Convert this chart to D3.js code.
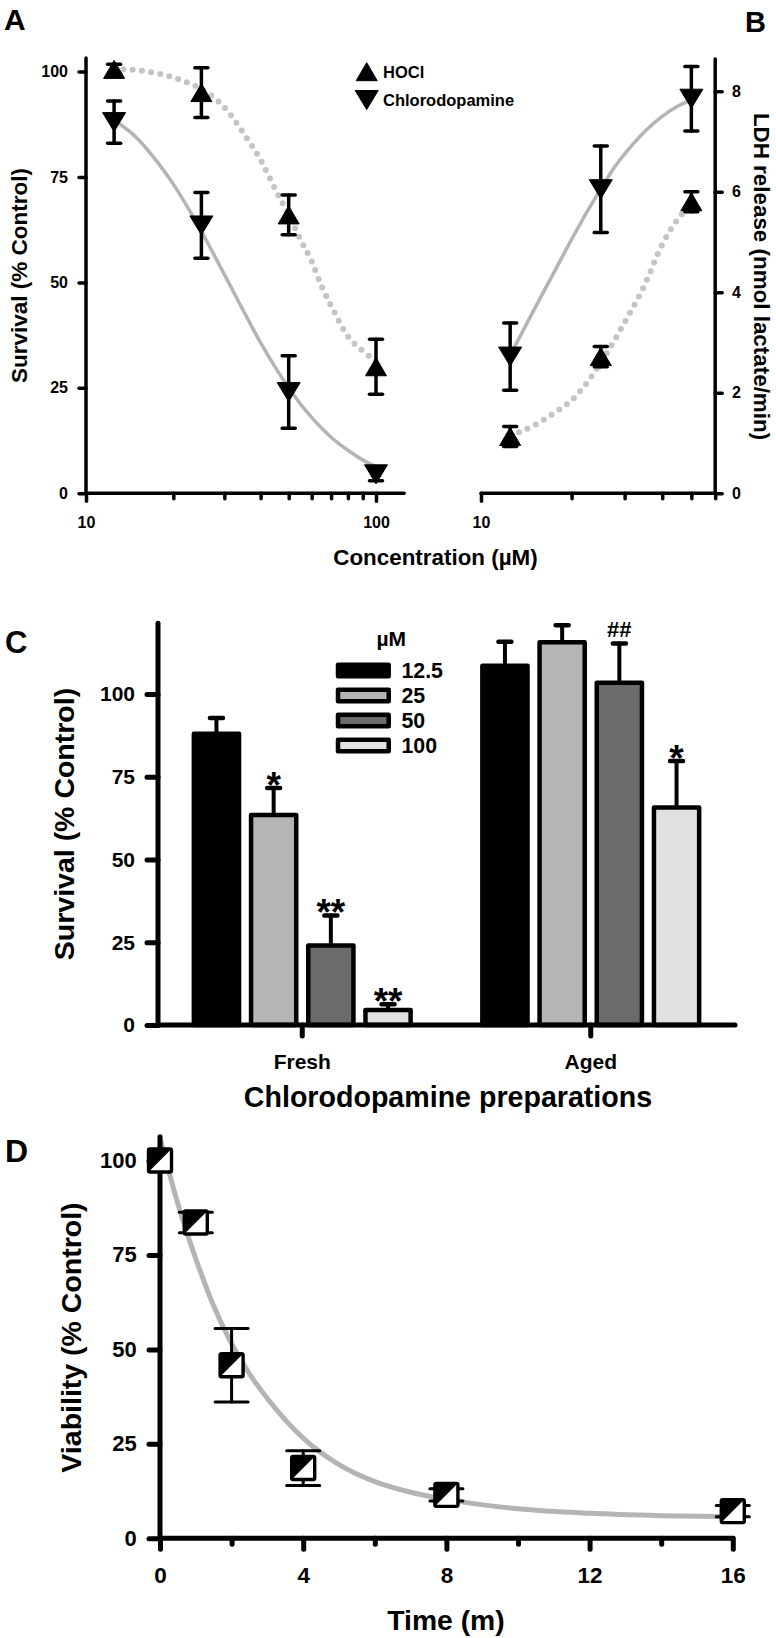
<!DOCTYPE html>
<html><head><meta charset="utf-8">
<script src="https://cdn.jsdelivr.net/npm/d3@7"></script>
<style>
html,body{margin:0;padding:0;background:#fff;}
svg{display:block;}
text{font-family:"Liberation Sans",Arial,Helvetica,sans-serif;font-weight:bold;fill:#000;}
</style></head><body>
<svg id="chart" width="776" height="1638"></svg>
<script>
// ---------------- DATA ----------------
// Panel A : survival vs concentration (log axis)
const concA = [12.5, 25, 50, 100];
const hoclSurvival = [100.5, 95, 66, 30];
const hoclSurvivalSem = [1.2, 5.9, 4.7, 6.5];
const cdSurvival = [88, 63.5, 24, 4.5];
const cdSurvivalSem = [5, 7.8, 8.6, 1.5];
const fitConcA = [12.5, 15, 17.5, 20, 22.5, 25, 30, 35, 40, 45, 50, 55, 60, 65, 70, 80, 90, 100];
const hoclFitA = [100.6, 100.3, 99.6, 98.6, 97.3, 95.8, 91.5, 85.3, 79, 72, 66, 60, 55, 49, 44.5, 37.2, 33.8, 31.2];
const cdFitA = [88.5, 84.2, 78.8, 73.3, 67.6, 62.1, 51.9, 43.1, 35.7, 29.8, 25.0, 21.1, 18.0, 15.4, 13.3, 10.2, 7.9, 6.3];
const survivalTicksA = [0, 25, 50, 75, 100];
const concMajorTicksA = [10, 100];
const concMinorTicksA = [20, 30, 40, 50, 60, 70, 80, 90];
const legendA = ["HOCl", "Chlorodopamine"];

// Panel B : LDH release
const concB = [12.5, 25, 50];
const hoclLDH = [1.13, 2.72, 5.8];
const hoclLDHSem = [0.2, 0.2, 0.2];
const cdLDH = [2.72, 6.05, 7.85];
const cdLDHSem = [0.67, 0.86, 0.64];
const fitConcB = [12.5, 15, 17.5, 20, 22.5, 25, 27.5, 30, 35, 40, 45, 50];
const hoclFitB = [1.15, 1.35, 1.6, 1.85, 2.2, 2.6, 3.0, 3.4, 4.15, 4.95, 5.45, 5.75];
const cdFitB = [2.75, 3.65, 4.4, 5.05, 5.6, 6.05, 6.45, 6.75, 7.2, 7.5, 7.7, 7.82];
const ldhTicks = [0, 2, 4, 6, 8];
const concMajorTicksB = [10];
const concMinorTicksB = [20, 30, 40, 50, 60];

// Panel C : bars
const preparations = ["Fresh", "Aged"];
const dosesC = ["12.5", "25", "50", "100"];
const freshSurvival = [88, 63.5, 24, 4.5];
const freshSem = [4.8, 8.1, 9.1, 1.8];
const agedSurvival = [108.6, 115.7, 103.4, 65.7];
const agedSem = [7.2, 5.1, 11.9, 14.1];
const freshMarks = ["", "*", "**", "**"];
const agedMarks = ["", "", "##", "*"];
const survivalTicksC = [0, 25, 50, 75, 100];

// Panel D : viability vs time
const timeMin = [0, 1, 2, 4, 8, 16];
const viability = [100, 83.6, 45.8, 18.6, 11.5, 7.2];
const viabilitySem = [0, 2.7, 9.7, 4.6, 1.6, 1.5];
const fitTime = [0, 0.5, 1, 1.5, 2, 2.5, 3, 4, 5, 6, 7, 8, 10, 12, 14, 16];
const viabilityFit = [106, 88.5, 74, 61.5, 51.5, 43.5, 37, 26.5, 19.5, 15, 12.2, 10.3, 7.8, 6.6, 6, 5.7];
const viabilityTicks = [0, 25, 50, 75, 100];
const timeMajorTicks = [0, 4, 8, 12, 16];
const timeMinorTicks = [2, 6, 10, 14];

// ---------------- STYLE ----------------
const INK = "#000";
const FIT = "#b4b4b4";
const FONT = '"Liberation Sans", Arial, Helvetica, sans-serif';
const barFills = ["#000000", "#b5b5b5", "#6b6b6b", "#e1e1e1"];

const svg = d3.select("#chart");

function styleAxis(g, sw, fs) {
  g.select(".domain").remove();
  g.selectAll(".tick line").attr("stroke", INK).attr("stroke-width", sw).attr("stroke-linecap", "round");
  g.selectAll(".tick text").attr("font-size", fs).attr("font-family", FONT)
    .attr("font-weight", "bold").attr("fill", INK);
}
function axisLine(x1, y1, x2, y2, sw) {
  svg.append("line").attr("x1", x1).attr("y1", y1).attr("x2", x2).attr("y2", y2)
    .attr("stroke", INK).attr("stroke-width", sw).attr("stroke-linecap", "round");
}
function triPath(cx, cy, w, h, up) {
  if (up) return `M${cx},${cy - h / 2}L${cx + w / 2},${cy + h / 2}L${cx - w / 2},${cy + h / 2}Z`;
  return `M${cx},${cy + h / 2}L${cx + w / 2},${cy - h / 2}L${cx - w / 2},${cy - h / 2}Z`;
}
function errBars(g, xs, vs, es, xS, yS, capW, sw) {
  xs.forEach((xv, i) => {
    if (!es[i]) return;
    const px = xS(xv), lo = yS(vs[i] - es[i]), hi = yS(vs[i] + es[i]);
    const s = g.append("g").attr("stroke", INK).attr("stroke-width", sw).attr("stroke-linecap", "round");
    s.append("line").attr("x1", px).attr("x2", px).attr("y1", lo).attr("y2", hi);
    s.append("line").attr("x1", px - capW / 2).attr("x2", px + capW / 2).attr("y1", hi).attr("y2", hi);
    s.append("line").attr("x1", px - capW / 2).attr("x2", px + capW / 2).attr("y1", lo).attr("y2", lo);
  });
}
function panelLetter(t, x, y, fs) {
  svg.append("text").attr("x", x).attr("y", y).attr("font-size", fs).text(t);
}

// ================= PANEL A =================
const xA = d3.scaleLog().domain([10, 125]).range([86, 404.1]);
const yA = d3.scaleLinear().domain([0, 103.2]).range([493.3, 58]);

const lineA = (ys) => d3.line().x((d, i) => xA(fitConcA[i])).y(d => yA(d)).curve(d3.curveMonotoneX)(ys);
svg.append("path").attr("d", lineA(cdFitA)).attr("fill", "none").attr("stroke", FIT).attr("stroke-width", 3.5);
svg.append("path").attr("d", lineA(hoclFitA)).attr("fill", "none").attr("stroke", "#c4c4c4")
  .attr("stroke-width", 6).attr("stroke-linecap", "round").attr("stroke-dasharray", "0 9.3");

svg.append("g").attr("transform", `translate(${xA(10)},0)`)
  .call(d3.axisLeft(yA).tickValues(survivalTicksA).tickSize(7).tickPadding(11).tickFormat(d3.format("d")))
  .call(g => styleAxis(g, 3.5, 16));
svg.append("g").attr("transform", `translate(0,${yA(0)})`)
  .call(d3.axisBottom(xA).tickValues(concMajorTicksA).tickSize(8).tickPadding(15).tickFormat(d3.format("d")))
  .call(g => styleAxis(g, 3.5, 16));
svg.append("g").attr("transform", `translate(0,${yA(0)})`)
  .call(d3.axisBottom(xA).tickValues(concMinorTicksA).tickSize(5.5).tickFormat(""))
  .call(g => styleAxis(g, 3.5, 16));
axisLine(xA(10), yA(0), xA(10), yA(103.2), 3.5);
axisLine(xA(10), yA(0), xA(125), yA(0), 3.5);

const gA = svg.append("g");
errBars(gA, concA, hoclSurvival, hoclSurvivalSem, xA, yA, 13, 3.5);
errBars(gA, concA, cdSurvival, cdSurvivalSem, xA, yA, 13, 3.5);
concA.forEach((c, i) => {
  gA.append("path").attr("d", triPath(xA(c), yA(hoclSurvival[i]), 21, 18, true)).attr("fill", INK)
    .attr("stroke", INK).attr("stroke-width", 1).attr("stroke-linejoin", "round");
  gA.append("path").attr("d", triPath(xA(c), yA(cdSurvival[i]), 23, 19, false)).attr("fill", INK)
    .attr("stroke", INK).attr("stroke-width", 1).attr("stroke-linejoin", "round");
});

const legY = d3.scalePoint().domain(legendA).range([71.7, 100]);
legendA.forEach((name, i) => {
  svg.append("path").attr("d", triPath(366.7, legY(name), i === 0 ? 21 : 23, i === 0 ? 18 : 19, i === 0))
    .attr("fill", INK).attr("stroke", INK).attr("stroke-width", 1).attr("stroke-linejoin", "round");
  svg.append("text").attr("x", 383).attr("y", legY(name) + 5.8).attr("font-size", 16.5).text(name);
});

svg.append("text").attr("transform", "translate(27,275.5) rotate(-90)").attr("text-anchor", "middle")
  .attr("font-size", 22.5).text("Survival (% Control)");

// ================= PANEL B =================
const xB = d3.scaleLog().domain([10, 60]).range([481, 715.2]);
const yB = d3.scaleLinear().domain([0, 8.64]).range([493.3, 59]);

const lineB = (ys) => d3.line().x((d, i) => xB(fitConcB[i])).y(d => yB(d)).curve(d3.curveMonotoneX)(ys);
svg.append("path").attr("d", lineB(cdFitB)).attr("fill", "none").attr("stroke", FIT).attr("stroke-width", 3.5);
svg.append("path").attr("d", lineB(hoclFitB)).attr("fill", "none").attr("stroke", "#c4c4c4")
  .attr("stroke-width", 6).attr("stroke-linecap", "round").attr("stroke-dasharray", "0 9.3");

svg.append("g").attr("transform", `translate(${xB(60)},0)`)
  .call(d3.axisRight(yB).tickValues(ldhTicks).tickSize(7).tickPadding(9.7).tickFormat(d3.format("d")))
  .call(g => styleAxis(g, 3.5, 16));
svg.append("g").attr("transform", `translate(0,${yB(0)})`)
  .call(d3.axisBottom(xB).tickValues(concMajorTicksB).tickSize(8).tickPadding(15).tickFormat(d3.format("d")))
  .call(g => styleAxis(g, 3.5, 16));
svg.append("g").attr("transform", `translate(0,${yB(0)})`)
  .call(d3.axisBottom(xB).tickValues(concMinorTicksB).tickSize(5.5).tickFormat(""))
  .call(g => styleAxis(g, 3.5, 16));
axisLine(xB(60), yB(0), xB(60), yB(8.64), 3.5);
axisLine(xB(10), yB(0), xB(60), yB(0), 3.5);

const gB = svg.append("g");
errBars(gB, concB, hoclLDH, hoclLDHSem, xB, yB, 13, 3.5);
errBars(gB, concB, cdLDH, cdLDHSem, xB, yB, 13, 3.5);
concB.forEach((c, i) => {
  gB.append("path").attr("d", triPath(xB(c), yB(hoclLDH[i]), 21, 18, true)).attr("fill", INK)
    .attr("stroke", INK).attr("stroke-width", 1).attr("stroke-linejoin", "round");
  gB.append("path").attr("d", triPath(xB(c), yB(cdLDH[i]), 23, 19, false)).attr("fill", INK)
    .attr("stroke", INK).attr("stroke-width", 1).attr("stroke-linejoin", "round");
});

svg.append("text").attr("transform", "translate(754,276.5) rotate(90)").attr("text-anchor", "middle")
  .attr("font-size", 22.4).text("LDH release (nmol lactate/min)");
svg.append("text").attr("x", 435.5).attr("y", 565).attr("text-anchor", "middle")
  .attr("font-size", 22.4).text("Concentration (µM)");

panelLetter("A", 4, 30, 30);
panelLetter("B", 745, 32, 29);

// ================= PANEL C =================
const x0 = d3.scaleBand().domain(preparations).range([158, 735]).padding(0);
const x1 = d3.scaleBand().domain(dosesC)
  .range([x0.bandwidth() / 2 - 114.4, x0.bandwidth() / 2 + 114.4]).paddingInner(0.21).paddingOuter(0.105);
const yC = d3.scaleLinear().domain([0, 121.4]).range([1025, 623.3]);

const groups = [
  { prep: "Fresh", vals: freshSurvival, sem: freshSem, marks: freshMarks },
  { prep: "Aged", vals: agedSurvival, sem: agedSem, marks: agedMarks }
];
groups.forEach(gr => {
  const g = svg.append("g").attr("transform", `translate(${x0(gr.prep)},0)`);
  dosesC.forEach((d, i) => {
    const cx = x1(d) + x1.bandwidth() / 2;
    const top = yC(gr.vals[i]), cap = yC(gr.vals[i] + gr.sem[i]);
    g.append("line").attr("x1", cx).attr("x2", cx).attr("y1", top).attr("y2", cap)
      .attr("stroke", INK).attr("stroke-width", 4).attr("stroke-linecap", "round");
    g.append("line").attr("x1", cx - 6.5).attr("x2", cx + 6.5).attr("y1", cap).attr("y2", cap)
      .attr("stroke", INK).attr("stroke-width", 4.5).attr("stroke-linecap", "round");
    g.append("rect").attr("x", x1(d)).attr("y", top).attr("width", x1.bandwidth())
      .attr("height", yC(0) - top).attr("fill", barFills[i]).attr("stroke", INK)
      .attr("stroke-width", 4.5).attr("stroke-linejoin", "round");
    const m = gr.marks[i];
    if (m) {
      if (m.startsWith("#")) {
        g.append("text").attr("x", cx).attr("y", cap - 6).attr("text-anchor", "middle")
          .attr("font-size", 22).text(m);
      } else {
        g.append("text").attr("x", cx).attr("y", cap + 10).attr("text-anchor", "middle")
          .attr("font-size", 37).text(m);
      }
    }
  });
});

svg.append("g").attr("transform", `translate(158,0)`)
  .call(d3.axisLeft(yC).tickValues(survivalTicksC).tickSize(11).tickPadding(12).tickFormat(d3.format("d")))
  .call(g => styleAxis(g, 5, 21));
svg.append("g").attr("transform", `translate(0,${yC(0)})`)
  .call(d3.axisBottom(x0).tickSize(11).tickPadding(18.3))
  .call(g => styleAxis(g, 5, 21));
axisLine(158, yC(0), 158, yC(121.4), 5);
axisLine(158, yC(0), 735, yC(0), 5);

const legC = d3.scalePoint().domain(dosesC).range([670.5, 745.5]);
svg.append("text").attr("x", 376.5).attr("y", 645.5).attr("font-size", 21).text("µM");
dosesC.forEach((d, i) => {
  svg.append("rect").attr("x", 338).attr("y", legC(d) - 5.8).attr("width", 50.7).attr("height", 11.6)
    .attr("fill", barFills[i]).attr("stroke", INK).attr("stroke-width", 4.5).attr("stroke-linejoin", "round");
  svg.append("text").attr("x", 401.5).attr("y", legC(d) + 7.8).attr("font-size", 21.3).text(d);
});

svg.append("text").attr("transform", "translate(74,824) rotate(-90)").attr("text-anchor", "middle")
  .attr("font-size", 28.5).text("Survival (% Control)");
svg.append("text").attr("x", 448).attr("y", 1107).attr("text-anchor", "middle")
  .attr("font-size", 28.6).text("Chlorodopamine preparations");
panelLetter("C", 5, 653, 31);

// ================= PANEL D =================
const xD = d3.scaleLinear().domain([0, 16]).range([160, 732.8]);
const yD = d3.scaleLinear().domain([0, 106.3]).range([1538.3, 1136.7]);

svg.append("path")
  .attr("d", d3.line().x((d, i) => xD(fitTime[i])).y(d => yD(d)).curve(d3.curveMonotoneX)(viabilityFit))
  .attr("fill", "none").attr("stroke", FIT).attr("stroke-width", 5);

svg.append("g").attr("transform", `translate(${xD(0)},0)`)
  .call(d3.axisLeft(yD).tickValues(viabilityTicks).tickSize(11).tickPadding(12.3).tickFormat(d3.format("d")))
  .call(g => styleAxis(g, 5, 22));
svg.append("g").attr("transform", `translate(0,${yD(0)})`)
  .call(d3.axisBottom(xD).tickValues(timeMajorTicks).tickSize(11).tickPadding(18.1).tickFormat(d3.format("d")))
  .call(g => styleAxis(g, 5, 22.5));
svg.append("g").attr("transform", `translate(0,${yD(0)})`)
  .call(d3.axisBottom(xD).tickValues(timeMinorTicks).tickSize(6).tickFormat(""))
  .call(g => styleAxis(g, 5, 22));
axisLine(xD(0), yD(0), xD(0), yD(106.3), 5);
axisLine(xD(0), yD(0), xD(16), yD(0), 5);

const gD = svg.append("g");
errBars(gD, timeMin, viability, viabilitySem, xD, yD, 33, 3);
timeMin.forEach((t, i) => {
  const m = gD.append("g").attr("transform", `translate(${xD(t)},${yD(viability[i])})`);
  m.append("rect").attr("x", -11.5).attr("y", -11.5).attr("width", 23).attr("height", 23).attr("fill", "#fff");
  m.append("path").attr("d", "M-11.5,-11.5H11.5L-11.5,11.5Z").attr("fill", INK);
  m.append("rect").attr("x", -11.5).attr("y", -11.5).attr("width", 23).attr("height", 23)
    .attr("fill", "none").attr("stroke", INK).attr("stroke-width", 3.4).attr("rx", 1.5);
});

svg.append("text").attr("transform", "translate(81,1337.5) rotate(-90)").attr("text-anchor", "middle")
  .attr("font-size", 28.5).text("Viability (% Control)");
svg.append("text").attr("x", 446).attr("y", 1630).attr("text-anchor", "middle")
  .attr("font-size", 28.3).text("Time (m)");
panelLetter("D", 5, 1162, 32);
</script>
</body></html>
